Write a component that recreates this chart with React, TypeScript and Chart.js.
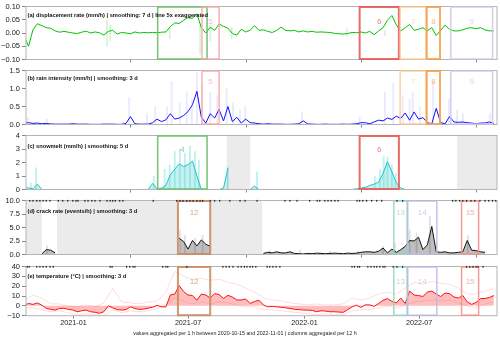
import React, { useEffect, useRef } from "react";
import { Chart, registerables } from "chart.js";

Chart.register(...registerables);

// x axis: days since 2020-10-15
const X_MIN = 3;
const X_MAX = 747;
const WEEK_STEP = 7;
const BIWEEK_STEP = 14;
const xTickDays = [78, 259, 443, 624];
const xTickLabels = ["2021-01", "2021-07", "2022-01", "2022-07"];

// (a) displacement rate, weekly smoothed (5x exaggerated)
const dispSmooth = [
  -0.01, -0.05, 0.012, 0.035, 0.028, 0.02, 0.018, 0.008, 0.003, 0.006,
  0.003, 0.0, -0.002, 0.003, 0.007, 0.0, 0.004, 0.001, -0.008, 0.006,
  0.01, -0.004, 0.002, 0.0, -0.003, 0.004, 0.0, 0.002, 0.001, 0.002,
  0.001, 0.003, 0.004, 0.024, 0.038, 0.036, 0.048, 0.058, 0.055, 0.072,
  0.02, 0.0, 0.022, 0.01, 0.034, 0.025, 0.018, -0.002, -0.008, 0.014,
  0.004, 0.01, 0.028, 0.01, 0.012, 0.006, 0.002, 0.01, 0.022, 0.01,
  0.008, 0.01, 0.004, 0.008, 0.004, 0.006, 0.003, 0.004, 0.003, 0.002,
  -0.001, -0.003, -0.004, -0.002, 0.002, 0.001, 0.004, 0.0, 0.006, -0.006,
  0.008, 0.02, 0.048, 0.066, 0.03, 0.008, 0.02, 0.032, 0.01, 0.014,
  0.02, 0.008, 0.02, -0.01, 0.01, 0.03, 0.014, 0.008, 0.008, 0.012,
  0.018, 0.02, 0.016, 0.02, 0.012, 0.008, 0.008,
];
const dispRawDays = [131, 136, 230, 278, 294, 328, 510, 570];
const dispRawLow = [-0.05, -0.03, -0.02, -0.08, -0.03, -0.02, -0.015, -0.01];
const dispRawHigh = [0.05, 0.03, 0.02, 0.03, 0.03, 0.02, 0.015, 0.01];

// (b) rain intensity
const rainSmooth = [
  0.04, 0.05, 0.03, 0.04, 0.02, 0.03, 0.015, 0.01, 0.01, 0.01,
  0.01, 0.02, 0.01, 0.01, 0.01, 0.005, 0.005, 0.005, 0.01, 0.01,
  0.01, 0.005, 0.005, 0.03, 0.22, 0.02, 0.01, 0.01, 0.01, 0.05,
  0.15, 0.08, 0.13, 0.3, 0.15, 0.18, 0.25, 0.36, 0.55, 0.92,
  0.2, 0.04, 0.3, 0.18, 0.42, 0.1, 0.5, 0.08, 0.2, 0.04,
  0.15, 0.05, 0.04, 0.02, 0.01, 0.02, 0.01, 0.01, 0.01, 0.005,
  0.005, 0.01, 0.02, 0.1, 0.015, 0.01, 0.005, 0.005, 0.01, 0.005,
  0.005, 0.005, 0.01, 0.005, 0.01, 0.02, 0.05, 0.05, 0.02, 0.07,
  0.12, 0.1, 0.18, 0.14, 0.23, 0.17, 0.32, 0.12, 0.35, 0.15,
  0.19, 0.05, 0.02, 0.45, 0.05, 0.02, 0.22, 0.07, 0.06, 0.07,
  0.05, 0.04, 0.02, 0.04, 0.04, 0.07, 0.03,
];
const rainRawDays = [6, 36, 166, 194, 207, 226, 233, 246, 257, 265, 273, 281, 294, 305, 320, 330, 341, 349, 439, 530, 570, 583, 598, 609, 614, 625, 646, 671, 684, 693, 736];
const rainRawVals = [0.2, 0.15, 0.75, 0.3, 0.5, 0.5, 1.2, 0.6, 0.9, 0.7, 1.45, 1.1, 0.9, 0.8, 1.0, 0.6, 0.4, 0.5, 0.35, 0.2, 0.9, 1.15, 0.8, 0.7, 0.9, 0.5, 1.2, 0.7, 0.4, 0.3, 0.3];

// (c) snowmelt
const snowSmooth = [
  0.1, 0.12, 0.05, 0.4, 0, 0, 0, 0, 0, 0,
  0, 0, 0, 0, 0, 0, 0, 0, 0, 0,
  0, 0, 0, 0, 0, 0, 0, 0, 0, 0.45,
  0.05, 0.1, 0.3, 1.1, 1.5, 1.9, 1.7, 1.85, 2.1, 1.0,
  0, 0, 0, 0, 0, 0.1, 1.6, null, null, null,
  null, 0, 0.25, 0, 0, 0, 0, 0, 0, 0,
  0, 0, 0, 0, 0, 0, 0, 0, 0, 0,
  0, 0, 0, 0, 0, 0.05, 0.1, 0.15, 0.3, 0.4,
  0.55, 1.2, 2.05, 1.3, 0.5, 0.1, 0, 0, 0, 0,
  0, 0, 0, 0, 0, 0, 0, 0, null, null,
  null, null, null, null, null, null, null,
];
const snowRawDays = [11, 19, 205, 222, 230, 238, 246, 254, 262, 270, 276, 322, 368, 554, 562, 568, 574, 581, 587];
const snowRawVals = [0.5, 1.6, 1.0, 1.5, 1.8, 2.8, 3.0, 2.7, 3.2, 2.8, 2.2, 1.6, 1.3, 1.0, 1.5, 2.5, 2.4, 1.8, 1.2];
const snowGaps = [[320, 357], [684, 747]];

// (d) crack rate
const crackSmooth = [
  null, null, null, null, 0.1, 0.9, 0.8, 0.3, null, null,
  null, null, null, null, null, null, null, null, null, null,
  null, null, null, null, null, null, null, null, null, null,
  null, null, null, null, null, 3.0, 2.4, 1.0, 2.6, 1.6,
  2.7, 1.9, 1.5, null, null, null, null, null, null, null,
  null, null, null, null, 0.2, 0.4, 0.3, 0.5, 0.3, 0.3,
  0.5, 0.2, 0.15, 0.1, 0.2, 0.15, 0.25, 0.2, 0.15, 0.2,
  0.25, 0.2, 0.15, 0.25, 0.2, 0.25, 0.4, 0.5, 0.5, 0.4,
  0.6, 1.2, 0.3, 1.0, 0.4, 0.9, 1.5, 2.6, 2.5, 3.2,
  0.9, 1.8, 5.2, 0.5, 0.4, 0.5, 0.3, 0.3, 0.4, 0.5,
  2.6, 0.8, 0.7, 0.5, 0.4, null, null,
];
const crackRawDays = [36, 246, 254, 270, 282, 388, 436, 483, 527, 567, 586, 609, 620, 641, 701];
const crackRawVals = [1.6, 4.5, 3.5, 3.0, 3.6, 0.8, 0.8, 0.6, 0.6, 1.5, 2.0, 4.5, 4.0, 7.0, 3.5];
const crackGaps = [[3, 28], [52, 243], [294, 376]];
const crackRugDays = [9, 14, 20, 25, 30, 35, 41, 54, 61, 69, 77, 82, 85, 96, 101, 107, 112, 120, 131, 136, 140, 144, 151, 156, 204, 241, 246, 251, 257, 262, 267, 273, 278, 282, 294, 301, 309, 325, 341, 349, 368, 412, 420, 431, 451, 463, 467, 475, 480, 485, 491, 496, 526, 530, 535, 541, 549, 557, 565, 589, 598, 677, 682, 688, 693, 699, 706, 712, 720, 728, 734, 740, 745];

// (e) temperature
const tempSmooth = [
  0.7, 2.4, 1.5, 3.0, 0.7, -2.5, -3.6, -4.3, -2.6, -2.5,
  -3.5, -4.3, -6, -5, -4.3, -6, -6.5, -7.6, -6, 0,
  -2, -3.8, -4.3, -3.8, -1, -2.6, -3.6, -3.3, -2.3, -1.5,
  0.5, -1, -1, 11, 12, 20.5, 14.5, 11, 10.5, 5.7,
  12, 11, 8, 12.5, 11.5, 7.5, 10.7, 9, 6, 6,
  7, 2.4, 4.5, 5.7, 1, -1, -0.5, -1, -1.4, -2,
  -2.6, -3.5, -3.8, -4.3, -4.3, -4.6, -6, -5, -5.3, -6,
  -6, -6.3, -6.6, -4, -1, 0.7, -1.5, 1, 1, -0.5,
  2.4, 5.7, 7.4, 4.5, 3, 8, 2.4, 15, 11, 10.5,
  9.5, 14, 15, 12, 9.5, 13, 12.4, 9, 8, 10.5,
  4, 1.5, 3.5, 7.4, 7.5, 8.5, 10.5,
];
const tempMax = [
  5, 11, 8, 2, 2, 0, -1, 1, -1, 3,
  18, 4, 3, 2, 4, 5, 14, 35, 30, 27,
  28, 26, 27, 24, 22, 18, 14, 8, 6, 5,
  3, 2, 1, 2, 1, 1, 2, 8, 6, 8,
  12, 14, 12, 18, 24, 22, 25, 23, 22, 18,
  12, 12, 15, 17,
];
const tempMin = [
  -2, -2, -4, -6, -5, -7, -9, -8, -9, -10,
  -4, -7, -5, -6, -5, -3, 2, 8, 5, 2,
  4, 2, 4, 3, 1, -1, -1, -4, -4, -5,
  -6, -7, -8, -9, -8, -9, -9, -5, -4, -4,
  -2, 0, -2, 1, 4, 5, 6, 5, 6, 3,
  0, -2, 2, 4,
];
const tempRugDays = [5, 8, 20, 25, 30, 35, 41, 46, 136, 139, 162, 167, 172, 175, 219, 224, 227, 257, 314, 319, 324, 330, 338, 343, 348, 352, 357, 361, 366, 384, 388, 393, 398, 404, 518, 522, 527, 530, 543, 548, 553, 557, 562, 567, 570, 583, 589, 598, 699, 704, 709, 714, 717, 725];

// event boxes
const boxIds = ["4", "5", "6", "7", "8", "9", "12", "13", "14", "15"];
const boxStart = [211, 281, 530, 594, 636, 674, 243, 584, 606, 691];
const boxEnd = [289, 308, 592, 635, 657, 740, 294, 605, 652, 718];
const boxColors = ["#6dbf6d", "#f5aaaa", "#e85a5a", "#fcca98", "#f6a24f", "#d2c6e6", "#c98b62", "#92d8c4", "#bfb9e4", "#f39189"];
const boxWidths = [1.6, 1.5, 2, 1.5, 2, 1.5, 2, 1.5, 1.5, 1.5];

const FONT = '"Liberation Sans", Arial, Helvetica, sans-serif';

const weekly = (vals) => vals.map((v, i) => ({ x: i * WEEK_STEP, y: v }));
const biweekly = (vals) => vals.map((v, i) => ({ x: i * BIWEEK_STEP, y: v }));
const sparse = (days, vals) => days.map((d, i) => ({ x: d, y: vals[i] }));

const panels = [
  {
    key: "a", top: 0, height: 66, padTop: 5.5, xAxisH: 4, showX: false,
    title: "(a) displacement rate (mm/h) | smoothing: 7 d | line 5x exaggerated", titleDy: 8.5,
    yMin: -0.1, yMax: 0.1, yTicks: [-0.1, -0.05, 0, 0.05, 0.1], yLabels: ["\u22120.10", "\u22120.05", "0.00", "0.05", "0.10"],
    boxes: ["4", "5", "6", "7", "8", "9"], labelBoxes: ["5", "6", "7", "8", "9"], labelDy: 15,
    shades: [], rug: null, footer: false,
    datasets: [
      { type: "line", data: weekly(dispSmooth), borderColor: "#00c400", borderWidth: 1, pointRadius: 0, order: 0 },
      { type: "bar", data: dispRawDays.map((d, i) => ({ x: d, y: [dispRawLow[i], dispRawHigh[i]] })), backgroundColor: "rgba(0,200,0,0.18)", barThickness: 1, order: 2 },
    ],
  },
  {
    key: "b", top: 64, height: 67, padTop: 5.7, xAxisH: 4, showX: false,
    title: "(b) rain intensity (mm/h) | smoothing: 3 d", titleDy: 8,
    yMin: 0, yMax: 1.5, yTicks: [0, 0.5, 1, 1.5], yLabels: ["0.0", "0.5", "1.0", "1.5"],
    boxes: ["5", "7", "8", "9"], labelBoxes: ["5", "7", "8", "9"], labelDy: 11.5,
    shades: [], rug: null, footer: false,
    datasets: [
      { type: "line", data: weekly(rainSmooth), borderColor: "#1010ff", borderWidth: 1, pointRadius: 0, order: 0 },
      { type: "bar", data: sparse(rainRawDays, rainRawVals), backgroundColor: "rgba(90,90,255,0.13)", barThickness: 1.2, order: 2 },
    ],
  },
  {
    key: "c", top: 129, height: 67, padTop: 5.7, xAxisH: 4, showX: false,
    title: "(c) snowmelt (mm/h) | smoothing: 5 d", titleDy: 11,
    yMin: 0, yMax: 4, yTicks: [0, 1, 2, 3, 4], yLabels: ["0", "1", "2", "3", "4"],
    boxes: ["4", "6"], labelBoxes: ["4", "6"], labelDy: 14.5,
    shades: snowGaps, rug: null, footer: false,
    datasets: [
      { type: "line", data: weekly(snowSmooth), borderColor: "#20c4c4", borderWidth: 1, pointRadius: 0, fill: "origin", backgroundColor: "rgba(32,200,200,0.25)", order: 0 },
      { type: "bar", data: sparse(snowRawDays, snowRawVals), backgroundColor: "rgba(32,200,200,0.28)", barThickness: 1.2, order: 2 },
    ],
  },
  {
    key: "d", top: 194, height: 67, padTop: 5.7, xAxisH: 4, showX: false,
    title: "(d) crack rate (events/h) | smoothing: 3 d", titleDy: 11,
    yMin: 0, yMax: 10, yTicks: [0, 2.5, 5, 7.5, 10], yLabels: ["0.0", "2.5", "5.0", "7.5", "10.0"],
    boxes: ["12", "13", "14", "15"], labelBoxes: ["12", "13", "14", "15"], labelDy: 12.5,
    shades: crackGaps, rug: crackRugDays, footer: false,
    datasets: [
      { type: "line", data: weekly(crackSmooth), borderColor: "#111111", borderWidth: 1, pointRadius: 0, fill: "origin", backgroundColor: "rgba(0,0,0,0.25)", order: 0 },
      { type: "bar", data: sparse(crackRawDays, crackRawVals), backgroundColor: "rgba(0,0,0,0.12)", barThickness: 1.2, order: 2 },
    ],
  },
  {
    key: "e", top: 260, height: 80, padTop: 5.7, xAxisH: 24.3, showX: true,
    title: "(e) temperature (\u00b0C) | smoothing: 3 d", titleDy: 10,
    yMin: -10, yMax: 40, yTicks: [-10, 0, 10, 20, 30, 40], yLabels: ["\u221210", "0", "10", "20", "30", "40"],
    boxes: ["12", "13", "14", "15"], labelBoxes: ["12", "13", "14", "15"], labelDy: 15,
    shades: [], rug: tempRugDays, footer: true,
    datasets: [
      { type: "line", data: weekly(tempSmooth), borderColor: "#ff1010", borderWidth: 1, pointRadius: 0, fill: "origin", backgroundColor: "rgba(255,40,40,0.3)", order: 0 },
      { type: "line", data: biweekly(tempMax), borderColor: "rgba(255,60,60,0.18)", borderWidth: 1, pointRadius: 0, fill: false, order: 2 },
      { type: "line", data: biweekly(tempMin), borderColor: "rgba(255,60,60,0.18)", borderWidth: 1, pointRadius: 0, fill: false, order: 2 },
    ],
  },
];

function makeDecor(cfg) {
  return {
    id: "decor_" + cfg.key,
    beforeDatasetsDraw(chart) {
      const { ctx, chartArea: a } = chart;
      const x = chart.scales.x;
      ctx.save();
      ctx.fillStyle = "#ebebeb";
      cfg.shades.forEach(([s, e]) => {
        const x0 = Math.max(a.left, x.getPixelForValue(s));
        const x1 = Math.min(a.right, x.getPixelForValue(e));
        if (x1 > x0) ctx.fillRect(x0, a.top, x1 - x0, a.bottom - a.top);
      });
      ctx.restore();
    },
    afterDatasetsDraw(chart) {
      const { ctx, chartArea: a } = chart;
      const x = chart.scales.x;
      ctx.save();
      ctx.strokeStyle = "#b4b4b4";
      ctx.lineWidth = 1;
      ctx.strokeRect(a.left, a.top, a.right - a.left, a.bottom - a.top);
      cfg.boxes.forEach((id) => {
        const i = boxIds.indexOf(id);
        const x0 = x.getPixelForValue(boxStart[i]);
        const x1 = x.getPixelForValue(boxEnd[i]);
        ctx.globalAlpha = 0.9;
        ctx.strokeStyle = boxColors[i];
        ctx.lineWidth = boxWidths[i];
        ctx.strokeRect(x0, a.top + 0.5, x1 - x0, a.bottom - a.top - 1);
        if (cfg.labelBoxes.includes(id)) {
          ctx.globalAlpha = 0.75;
          ctx.fillStyle = boxColors[i];
          ctx.font = "8px " + FONT;
          ctx.textAlign = "center";
          ctx.textBaseline = "middle";
          ctx.fillText(id, (x0 + x1) / 2, a.top + cfg.labelDy);
        }
        ctx.globalAlpha = 1;
      });
      if (cfg.rug) {
        ctx.fillStyle = "#222";
        cfg.rug.forEach((d) => {
          const px = x.getPixelForValue(d);
          ctx.fillRect(px - 0.6, a.top - 0.6, 1.2, 1.8);
        });
      }
      ctx.fillStyle = "#111";
      ctx.font = "bold 5.7px " + FONT;
      ctx.textAlign = "left";
      ctx.textBaseline = "middle";
      ctx.fillText(cfg.title, a.left + 1.5, a.top + cfg.titleDy);
      ctx.restore();
    },
    afterDraw(chart) {
      if (!cfg.footer) return;
      const { ctx } = chart;
      ctx.save();
      ctx.fillStyle = "#222";
      ctx.font = "5.3px " + FONT;
      ctx.textAlign = "center";
      ctx.textBaseline = "middle";
      ctx.fillText(
        "values aggregated per 1 h between 2020-10-15 and 2022-11-01 | columns aggregated per 12 h",
        245,
        74
      );
      ctx.restore();
    },
  };
}

function Panel({ cfg }) {
  const ref = useRef(null);
  useEffect(() => {
    const chart = new Chart(ref.current, {
      type: "line",
      data: { datasets: cfg.datasets },
      options: {
        animation: false,
        responsive: false,
        maintainAspectRatio: false,
        events: [],
        layout: { padding: { top: cfg.padTop, left: 0, right: 3, bottom: 0 } },
        plugins: { legend: { display: false }, tooltip: { enabled: false }, title: { display: false } },
        elements: { point: { radius: 0 }, line: { tension: 0 } },
        scales: {
          x: {
            type: "linear",
            min: X_MIN,
            max: X_MAX,
            offset: false,
            border: { display: false },
            grid: { display: true, drawOnChartArea: false, drawTicks: true, tickLength: 3, color: "#888" },
            ticks: {
              display: cfg.showX,
              autoSkip: false,
              maxRotation: 0,
              padding: 0,
              color: "#222",
              font: { family: FONT, size: 7.2 },
              callback: (v, i) => xTickLabels[i],
            },
            afterBuildTicks: (axis) => {
              axis.ticks = xTickDays.map((v) => ({ value: v }));
            },
            afterFit: (axis) => {
              axis.height = cfg.xAxisH;
            },
          },
          y: {
            type: "linear",
            min: cfg.yMin,
            max: cfg.yMax,
            border: { display: false },
            grid: { display: true, drawOnChartArea: false, drawTicks: true, tickLength: 4, color: "#888" },
            ticks: {
              autoSkip: false,
              padding: 2,
              color: "#222",
              font: { family: FONT, size: 7.5 },
              callback: (v, i) => cfg.yLabels[i],
            },
            afterBuildTicks: (axis) => {
              axis.ticks = cfg.yTicks.map((v) => ({ value: v }));
            },
            afterFit: (axis) => {
              axis.width = 26;
            },
          },
        },
      },
      plugins: [makeDecor(cfg)],
    });
    return () => chart.destroy();
  }, [cfg]);
  return (
    <canvas
      ref={ref}
      width={500}
      height={cfg.height}
      style={{ position: "absolute", left: 0, top: cfg.top, width: 500, height: cfg.height }}
    />
  );
}

export default function App() {
  return (
    <div style={{ position: "absolute", left: 0, top: 0, width: 500, height: 340, background: "#fff", overflow: "hidden" }}>
      {panels.map((p) => (
        <Panel key={p.key} cfg={p} />
      ))}
    </div>
  );
}
